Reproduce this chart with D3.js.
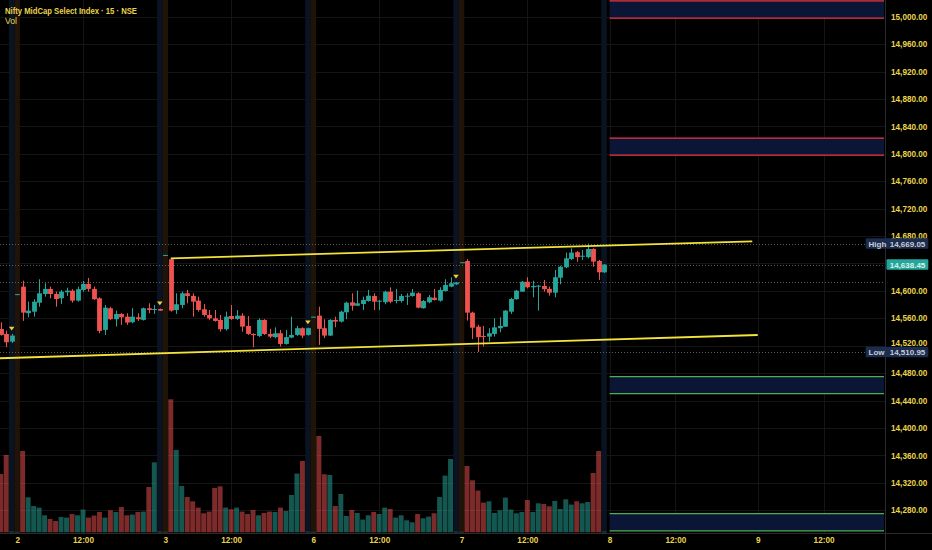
<!DOCTYPE html>
<html>
<head>
<meta charset="utf-8">
<script src="https://cdn.jsdelivr.net/npm/d3@7"></script>
<style>
  html, body { margin: 0; background: #000; overflow: hidden; }
  text { font-family: "Liberation Sans", Arial, sans-serif; }
</style>
</head>
<body>
<svg id="chart" width="932" height="550"></svg>
<script>
// ---- data: 15 min bars [open, high, low, close], one slot per bar ----
// slot 0 of each day is the 9:00 pre-open bar, slot 26 the 15:30 bar
const preBars = [
  [14544.5, 14554.3, 14534.8, 14535.8],
  [14537.2, 14542.1, 14517.9, 14525.1],
  [14526.0, 14537.2, 14524.1, 14534.8]
];
const preVol = [58.3, 77.3, 0.7];

const day2Bars = [
  [14595.1, 14595.6, 14594.6, 14595.3], [14606.2, 14614.9, 14556.2, 14568.3],
  [14567.4, 14584.3, 14561.5, 14571.2], [14569.7, 14587.8, 14562.4, 14584.3],
  [14582.8, 14617.0, 14576.9, 14596.5], [14595.5, 14611.2, 14591.6, 14602.9],
  [14602.9, 14606.2, 14589.2, 14595.5], [14595.5, 14598.9, 14576.9, 14588.2],
  [14589.2, 14601.4, 14580.9, 14598.9], [14598.0, 14604.7, 14592.6, 14600.4],
  [14600.4, 14602.5, 14582.8, 14585.8], [14585.8, 14606.2, 14584.3, 14602.5],
  [14601.4, 14614.5, 14598.9, 14610.2], [14610.2, 14618.9, 14598.9, 14602.9],
  [14602.9, 14606.2, 14586.8, 14587.8], [14589.2, 14590.7, 14538.2, 14541.6],
  [14543.1, 14579.5, 14535.8, 14575.6], [14574.7, 14576.9, 14557.7, 14558.7],
  [14558.7, 14571.2, 14547.9, 14566.4], [14566.4, 14567.4, 14550.4, 14561.5],
  [14562.4, 14567.4, 14550.4, 14553.8], [14554.3, 14574.7, 14552.8, 14562.4],
  [14561.5, 14567.4, 14556.2, 14558.7], [14557.7, 14575.6, 14556.7, 14574.7],
  [14574.7, 14581.9, 14567.4, 14572.2], [14572.6, 14579.5, 14566.4, 14573.6],
  [14573.6, 14574.2, 14570.8, 14571.2]
];
const day2Vol = [0.5, 81.3, 35, 26.3, 24.7, 17, 13.3, 11.3, 15.3, 14.7, 18.3, 17, 22.7, 14.7,
  16.7, 20.3, 14.7, 22, 20.3, 25.3, 17, 17.7, 20.3, 20.7, 45.3, 70, 0.7];

const day3Bars = [
  [14652.2, 14652.6, 14652.0, 14652.4], [14646.2, 14647.6, 14569.7, 14571.2],
  [14572.2, 14596.5, 14566.4, 14580.5], [14579.5, 14598.9, 14574.7, 14596.5],
  [14596.5, 14601.4, 14581.9, 14592.6], [14592.6, 14596.5, 14562.4, 14584.3],
  [14585.8, 14591.6, 14569.7, 14572.2], [14573.2, 14580.9, 14562.4, 14564.9],
  [14564.9, 14572.2, 14557.7, 14560.0], [14560.0, 14572.2, 14555.2, 14556.2],
  [14557.7, 14564.9, 14540.6, 14544.1], [14544.1, 14569.7, 14542.1, 14562.4],
  [14563.4, 14579.5, 14557.7, 14559.1], [14559.1, 14572.2, 14557.7, 14563.9],
  [14563.9, 14567.4, 14540.6, 14547.9], [14548.9, 14563.4, 14535.8, 14537.2],
  [14537.2, 14538.2, 14517.9, 14535.4], [14534.3, 14560.0, 14532.5, 14557.7],
  [14557.7, 14558.7, 14535.8, 14537.2], [14537.2, 14544.6, 14531.1, 14533.3],
  [14532.5, 14546.8, 14531.1, 14538.2], [14538.2, 14543.1, 14518.9, 14522.6],
  [14522.6, 14543.1, 14521.6, 14532.5], [14531.9, 14562.4, 14531.1, 14535.8],
  [14535.8, 14548.9, 14534.3, 14545.6], [14545.6, 14546.8, 14531.1, 14534.8],
  [14535.8, 14546.3, 14534.8, 14545.6]
];
const day3Vol = [0.5, 133, 82.3, 46.3, 35.3, 31, 24.7, 19, 20.7, 44.3, 46, 24.7, 23, 24.7,
  20.7, 18.3, 22.3, 17, 19.3, 20.7, 20.3, 24.7, 21.3, 37.3, 58.7, 71.3, 0.7];

const day6Bars = [
  [14562.2, 14562.6, 14562.0, 14562.4], [14563.9, 14576.9, 14521.2, 14544.6],
  [14545.6, 14558.7, 14531.1, 14534.8], [14534.8, 14558.7, 14534.3, 14557.7],
  [14557.7, 14562.4, 14547.0, 14555.2], [14555.2, 14571.2, 14553.8, 14569.7],
  [14568.8, 14584.3, 14558.7, 14582.8], [14583.4, 14596.5, 14571.2, 14578.4],
  [14578.4, 14600.4, 14578.0, 14581.9], [14580.9, 14591.6, 14572.2, 14586.8],
  [14585.3, 14601.4, 14584.3, 14593.0], [14592.6, 14596.5, 14572.2, 14584.3],
  [14584.3, 14586.8, 14572.2, 14585.8], [14583.4, 14600.4, 14580.5, 14598.9],
  [14598.9, 14605.3, 14581.9, 14584.3], [14585.3, 14602.9, 14581.9, 14586.8],
  [14585.3, 14595.5, 14582.8, 14592.6], [14591.6, 14596.5, 14579.5, 14593.0],
  [14592.6, 14602.9, 14591.6, 14597.4], [14596.5, 14598.0, 14574.7, 14575.6],
  [14574.7, 14586.8, 14574.2, 14585.3], [14583.4, 14594.1, 14581.9, 14590.7],
  [14590.1, 14602.9, 14585.8, 14586.8], [14585.8, 14605.3, 14584.3, 14601.4],
  [14599.9, 14617.0, 14598.9, 14608.7], [14606.2, 14619.9, 14605.3, 14611.2],
  [14609.6, 14613.0, 14608.7, 14612.5]
];
const day6Vol = [0.5, 96.3, 58, 57.3, 26.3, 38.3, 16.3, 22.3, 19.3, 12.7, 17, 20.3, 18.3, 24.7,
  23.3, 14.7, 17, 12, 10, 18.3, 14, 15.7, 19, 35.3, 56.7, 73.3, 0.7];

const day7Bars = [
  [14641.6, 14642.0, 14641.4, 14641.8], [14643.6, 14646.6, 14556.7, 14568.3],
  [14568.3, 14569.7, 14529.9, 14546.3], [14547.8, 14550.4, 14510.95, 14532.5],
  [14534.3, 14548.9, 14518.9, 14533.3], [14533.3, 14545.6, 14526.0, 14538.2],
  [14537.2, 14560.0, 14533.3, 14546.8], [14545.6, 14561.5, 14539.6, 14548.9],
  [14547.8, 14572.2, 14547.3, 14571.2], [14569.7, 14590.1, 14566.4, 14588.2],
  [14587.8, 14601.4, 14587.3, 14600.4], [14598.9, 14614.5, 14598.5, 14613.4],
  [14613.4, 14619.9, 14603.8, 14605.3], [14605.3, 14614.9, 14590.7, 14607.2],
  [14606.2, 14608.7, 14571.2, 14607.7], [14607.2, 14616.0, 14598.9, 14602.5],
  [14602.9, 14606.2, 14593.0, 14597.4], [14597.4, 14630.6, 14590.7, 14619.9],
  [14619.3, 14636.8, 14609.6, 14635.3], [14634.4, 14655.9, 14633.0, 14647.6],
  [14646.6, 14662.2, 14645.2, 14655.9], [14656.5, 14658.3, 14642.5, 14649.2],
  [14649.9, 14659.7, 14645.2, 14651.3], [14649.2, 14669.05, 14647.6, 14661.2],
  [14661.2, 14662.2, 14635.3, 14642.7], [14643.6, 14645.2, 14616.0, 14627.1],
  [14627.1, 14639.3, 14626.1, 14638.45]
];
const day7Vol = [0.5, 66.3, 52, 41.7, 29.7, 31, 19.3, 22, 34.7, 22.7, 19, 20.3, 32.3, 20.3,
  29, 28.3, 26, 31.3, 23.3, 33, 27.7, 31, 29, 30.3, 59.3, 81.3, 0.7];

// x axis (slots, 27 per day)
const tickSlots = [0, 12, 27, 39, 54, 66, 81, 93, 108, 120, 135, 147];
const tickLabels = ["2", "12:00", "3", "12:00", "6", "12:00", "7", "12:00", "8", "12:00", "9", "12:00"];
const preSlots = [0, 27, 54, 81];
const postSlots = [-1, 26, 53, 80, 107];
const markerSlots = [-1, 26, 53, 80];

// drawings: [slot, price]
const upperLine = [[28, 14647.6], [134, 14672.4]];
const lowerLine = [[-4, 14501.5], [135, 14535.7]];
const supplyZones = [[14998, 15023], [14798, 14823]];
const demandZones = [[14450, 14475], [14250, 14275]];
const zoneStartSlot = 108;

const highPrice = 14669.05, lowPrice = 14510.95, lastPrice = 14638.45, prevClose = 14612.5;
const priceTicks = d3.range(14280, 15001, 40);

// ---- layout ----
const W = 932, H = 550;
const plotRight = 885, plotBottom = 533;
const UP = "#26a69a", DOWN = "#ef5350", TXT = "#e9d44c";

const x = d3.scaleLinear().domain([-3.13, 158.2]).range([0, plotRight]);
const y = d3.scaleLinear().domain([14246.8, 15024.4]).range([plotBottom, 0]);
const yVol = d3.scaleLinear().domain([0, 133]).range([532.3, 399.3]);
const slotW = x(1) - x(0);

// flatten into bars with slots
const bars = [];
preBars.forEach((b, i) => bars.push({ slot: i - 3, o: b[0], h: b[1], l: b[2], c: b[3], v: preVol[i] }));
[[day2Bars, day2Vol], [day3Bars, day3Vol], [day6Bars, day6Vol], [day7Bars, day7Vol]].forEach(([dayBars, dayVol], d) => {
  dayBars.forEach((b, i) => bars.push({ slot: d * 27 + i, o: b[0], h: b[1], l: b[2], c: b[3], v: dayVol[i] }));
});

const svg = d3.select("#chart");
svg.append("rect").attr("width", W).attr("height", H).attr("fill", "#000");

const plot = svg.append("g");

// grid
plot.append("g").selectAll("line").data(priceTicks).join("line")
  .attr("x1", 0).attr("x2", plotRight)
  .attr("y1", d => Math.round(y(d)) + 0.5).attr("y2", d => Math.round(y(d)) + 0.5)
  .attr("stroke", "#151515");
plot.append("g").selectAll("line").data(tickSlots).join("line")
  .attr("x1", d => Math.round(x(d)) + 0.5).attr("x2", d => Math.round(x(d)) + 0.5)
  .attr("y1", 0).attr("y2", plotBottom)
  .attr("stroke", "#151515");

// session backgrounds
plot.append("g").selectAll("rect").data(postSlots).join("rect")
  .attr("x", d => x(d) - slotW / 2).attr("width", slotW)
  .attr("y", 0).attr("height", plotBottom)
  .attr("fill", "#0a1322");
plot.append("g").selectAll("rect").data(preSlots).join("rect")
  .attr("x", d => x(d) - slotW / 2).attr("width", slotW)
  .attr("y", 0).attr("height", plotBottom)
  .attr("fill", "#201408");

// zones
const zoneX0 = x(zoneStartSlot), zoneX1 = plotRight - 1;
function drawZones(zones, lineColor) {
  const g = plot.append("g");
  zones.forEach(([lo, hi]) => {
    g.append("rect").attr("x", zoneX0).attr("width", zoneX1 - zoneX0)
      .attr("y", y(hi)).attr("height", y(lo) - y(hi)).attr("fill", "#0b1636");
    [lo, hi].forEach(p => g.append("line")
      .attr("x1", zoneX0).attr("x2", zoneX1).attr("y1", y(p)).attr("y2", y(p))
      .attr("stroke", lineColor).attr("stroke-width", 1.3));
  });
}
drawZones(supplyZones, "#f23645");
drawZones(demandZones, "#4caf50");

// volume
plot.append("g").selectAll("rect").data(bars).join("rect")
  .attr("x", d => x(d.slot) - slotW * 0.45).attr("width", slotW * 0.9)
  .attr("y", d => yVol(d.v)).attr("height", d => yVol(0) - yVol(d.v))
  .attr("fill", d => d.c >= d.o ? UP : DOWN).attr("fill-opacity", 0.52);

// dotted price levels
plot.append("g").selectAll("line").data([highPrice, lastPrice, prevClose, lowPrice]).join("line")
  .attr("x1", 0).attr("x2", plotRight)
  .attr("y1", d => Math.round(y(d)) + 0.5).attr("y2", d => Math.round(y(d)) + 0.5)
  .attr("stroke", "#5c5c5c").attr("stroke-dasharray", "1,2");

// candles
const candles = plot.append("g").selectAll("g").data(bars).join("g");
candles.append("line")
  .attr("x1", d => Math.round(x(d.slot)) + 0.5).attr("x2", d => Math.round(x(d.slot)) + 0.5)
  .attr("y1", d => y(d.h)).attr("y2", d => y(d.l))
  .attr("stroke", d => d.c >= d.o ? UP : DOWN);
candles.append("rect")
  .attr("x", d => Math.round(x(d.slot)) + 0.5 - slotW * 0.44).attr("width", slotW * 0.88)
  .attr("y", d => y(Math.max(d.o, d.c)))
  .attr("height", d => Math.max(1, Math.abs(y(d.o) - y(d.c))))
  .attr("fill", d => d.c >= d.o ? UP : DOWN);

// markers above the 15:30 bars
const barBySlot = new Map(bars.map(b => [b.slot, b]));
plot.append("g").selectAll("path").data(markerSlots).join("path")
  .attr("d", s => {
    const cx = x(s), cy = y(barBySlot.get(s).h) - 5;
    return `M${cx - 2.8},${cy - 2.2}L${cx + 2.8},${cy - 2.2}L${cx},${cy + 1.6}Z`;
  })
  .attr("fill", "#f2cf3a");

// trend lines
const line = d3.line().x(d => x(d[0])).y(d => y(d[1]));
[upperLine, lowerLine].forEach(pts => plot.append("path")
  .attr("d", line(pts)).attr("fill", "none")
  .attr("stroke", "#f3e33a").attr("stroke-width", 1.8));

// axes borders
svg.append("line").attr("x1", plotRight + 0.5).attr("x2", plotRight + 0.5)
  .attr("y1", 0).attr("y2", H).attr("stroke", "#2b2b2b");
svg.append("line").attr("x1", 0).attr("x2", W)
  .attr("y1", plotBottom + 0.5).attr("y2", plotBottom + 0.5).attr("stroke", "#2b2b2b");

// price axis (tick labels sitting under the last-price tag are hidden)
const visibleTicks = priceTicks.filter(v => Math.abs(y(v) - y(lastPrice)) > 4);
const yAxis = svg.append("g").attr("transform", `translate(${plotRight},0)`)
  .call(d3.axisRight(y).tickValues(visibleTicks).tickFormat(d3.format(",.2f")).tickSize(0).tickPadding(6));
yAxis.select(".domain").remove();
yAxis.selectAll("text").attr("fill", TXT).attr("font-size", 8.2).attr("font-weight", 600);

// the tick label just above the Low tag is nudged up so the tag does not hide it
yAxis.selectAll(".tick").filter(v => Math.abs(y(v) - y(lowPrice)) < 10)
  .select("text").attr("transform", "translate(0,-3)");

// time axis
const xAxis = svg.append("g").attr("transform", `translate(0,${plotBottom})`)
  .call(d3.axisBottom(x).tickValues(tickSlots).tickFormat((d, i) => tickLabels[i]).tickSize(0).tickPadding(4));
xAxis.select(".domain").remove();
xAxis.selectAll("text").attr("fill", TXT).attr("font-size", 8.2).attr("font-weight", 600);

// price labels
function tag(price, name, bg, fg) {
  const cy = y(price);
  const x0 = name ? 865.7 : plotRight + 1.5;
  svg.append("rect").attr("x", x0).attr("y", cy - 5.3).attr("width", 928.3 - x0).attr("height", 10.6)
    .attr("rx", 1).attr("fill", bg);
  if (name) svg.append("text").attr("x", 868.5).attr("y", cy + 3).attr("font-size", 8)
    .attr("font-weight", 600).attr("fill", fg).text(name);
  svg.append("text").attr("x", 907.5).attr("y", cy + 3).attr("text-anchor", "middle")
    .attr("font-size", 8).attr("font-weight", 600).attr("fill", fg).text(d3.format(",.2f")(price));
}
tag(highPrice, "High", "#1b2c4e", "#c9ccd3");
tag(lowPrice, "Low", "#1b2c4e", "#c9ccd3");
tag(lastPrice, null, UP, "#d8f2ee");

// legend
svg.append("text").attr("x", 5).attr("y", 13.5).attr("font-size", 8.6).attr("font-weight", 700)
  .attr("textLength", 132).attr("lengthAdjust", "spacingAndGlyphs")
  .attr("fill", TXT).text("Nifty MidCap Select Index · 15 · NSE");
svg.append("text").attr("x", 5).attr("y", 23.5).attr("font-size", 8.6)
  .attr("fill", TXT).text("Vol");
</script>
</body>
</html>
